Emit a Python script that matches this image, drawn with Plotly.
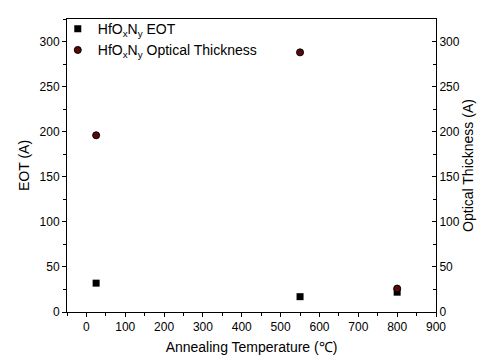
import plotly.graph_objects as go

temps = [25, 550, 800]
eot = [32, 17, 22]
optical = [196, 288, 26]

x_ticks = [0, 100, 200, 300, 400, 500, 600, 700, 800, 900]
y_ticks = [0, 50, 100, 150, 200, 250, 300]

font = "Liberation Sans, Arial, sans-serif"

fig = go.Figure()
fig.add_trace(go.Scatter(
    x=temps, y=eot, mode="markers", name="HfO<sub>x</sub>N<sub>y</sub> EOT",
    marker=dict(symbol="square", size=7, color="black"), yaxis="y"))
fig.add_trace(go.Scatter(
    x=temps, y=optical, mode="markers", name="HfO<sub>x</sub>N<sub>y</sub> Optical Thickness",
    marker=dict(symbol="circle", size=7, color="#5c0808", line=dict(color="black", width=1)),
    yaxis="y2"))

axis_common = dict(showgrid=False, zeroline=False, showline=True, linecolor="black",
                   linewidth=1, tickcolor="black", tickfont=dict(size=12, color="black"),
                   automargin=False)

# the page body has an 8px margin, so the plot area is placed 8px up/left in the layout
fig.update_layout(
    width=485, height=360,
    margin=dict(l=59, r=57, t=5, b=56),
    paper_bgcolor="white", plot_bgcolor="white",
    font=dict(family=font, color="black"),
    showlegend=True,
    legend=dict(x=-0.025, y=1.02, xanchor="left", yanchor="top", bgcolor="rgba(0,0,0,0)",
                font=dict(size=14), tracegroupgap=0),
    xaxis=dict(range=[-50, 900], tickvals=x_ticks, ticks="outside", ticklen=4,
               minor=dict(dtick=50, tick0=0, ticks="outside", ticklen=3, tickcolor="black"),
               mirror=True,
               title=dict(text="Annealing Temperature (℃)", font=dict(size=14), standoff=8),
               **axis_common),
    yaxis=dict(range=[0, 325], tickvals=y_ticks, ticks="outside", ticklen=4,
               minor=dict(dtick=25, tick0=0, ticks="outside", ticklen=3, tickcolor="black"),
               title=dict(text="EOT (A)", font=dict(size=14), standoff=6),
               **axis_common),
    yaxis2=dict(range=[0, 325], tickvals=y_ticks, ticks="inside", ticklen=4, side="right",
                overlaying="y",
                minor=dict(dtick=25, tick0=0, ticks="inside", ticklen=3, tickcolor="black"),
                title=dict(text="Optical Thickness (A)", font=dict(size=14), standoff=4),
                **axis_common),
)

fig.write_html("out.html")
